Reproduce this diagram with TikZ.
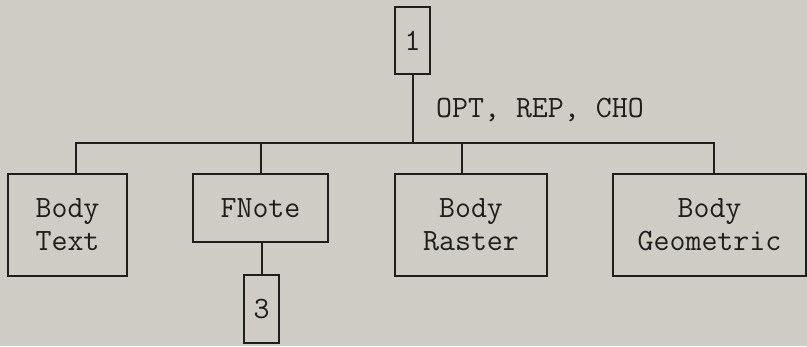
\documentclass[tikz,border=0pt]{standalone}
\usepackage{fontspec}
\begin{document}
\begin{tikzpicture}[x=1pt,y=-1pt,
  box/.style={draw=ink,line width=2pt,inner sep=0pt,align=center,text=ink,
    font=\ttfamily\fontsize{31}{33}\selectfont},
  conn/.style={draw=ink,line width=2pt},
  lbl/.style={text=ink,inner sep=0pt,font=\ttfamily\fontsize{31}{33}\selectfont}]
\definecolor{ink}{RGB}{30,30,28}
\definecolor{paper}{RGB}{206,204,196}
\fill[paper] (0,0) rectangle (807,346);
\useasboundingbox (0,0) rectangle (807,346);
\node[box,minimum width=35pt,minimum height=67pt] (n1) at (412.5,40.5) {1};
\node[box,minimum width=119pt,minimum height=102pt] (bt) at (67.5,225) {Body\\Text};
\node[box,minimum width=135pt,minimum height=68pt] (fn) at (260.5,208) {FNote};
\node[box,minimum width=35pt,minimum height=68pt] (n3) at (261.5,309) {3};
\node[box,minimum width=152pt,minimum height=102pt] (br) at (471,225) {Body\\Raster};
\node[box,minimum width=193pt,minimum height=102pt] (bg) at (709.5,225) {Body\\Geometric};
\coordinate (busL) at (76,143);
\coordinate (busR) at (714,143);
\coordinate (sFN) at (261,143);
\coordinate (sBR) at (462,143);
\coordinate (s1) at (412.5,143);
\draw[conn] (bt.north -| busL) -- (busL) -- (busR) -- (bg.north -| busR);
\draw[conn] (n1.south) -- (s1);
\draw[conn] (fn.north -| sFN) -- (sFN);
\draw[conn] (br.north -| sBR) -- (sBR);
\draw[conn] (fn.south -| n3.north) -- (n3.north);
\node[lbl,anchor=base west] (lab) at (436,117) {OPT, REP, CHO};
\end{tikzpicture}
\end{document}
